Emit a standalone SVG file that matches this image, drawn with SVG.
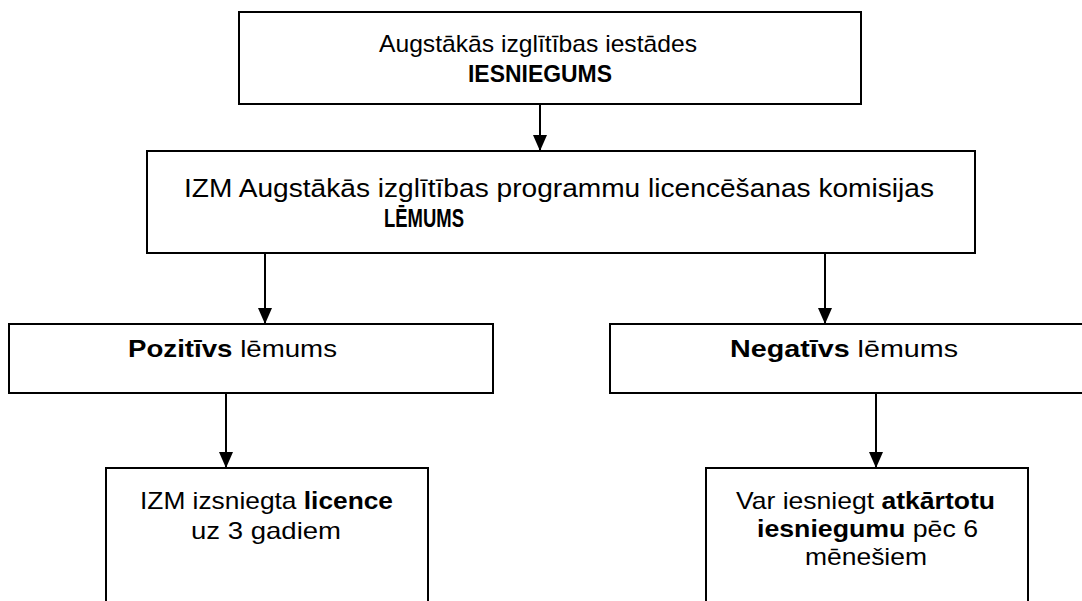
<svg xmlns="http://www.w3.org/2000/svg" width="1082" height="601" viewBox="0 0 1082 601">
<style>
.box{fill:#fff;stroke:#000;stroke-width:2}
.t{font-family:"Liberation Sans",Arial,sans-serif;font-size:24px;fill:#000}
.big{font-size:26px}
.b{font-weight:bold}
.c{stroke:#000;stroke-width:2;fill:none}
</style>
<defs>
<marker id="ah" markerWidth="16" markerHeight="14" refX="16" refY="7" orient="auto" markerUnits="userSpaceOnUse" viewBox="0 0 16 14">
<path d="M0,0 L16,7 L0,14 Z" fill="#000"/>
</marker>
</defs>
<g id="n1">
<rect class="box" x="239" y="12" width="622" height="92"/>
<text class="t" x="379" y="52" textLength="318" lengthAdjust="spacingAndGlyphs">Augstākās izglītības iestādes</text>
<text class="t b" x="468" y="82" textLength="144" lengthAdjust="spacingAndGlyphs">IESNIEGUMS</text>
</g>
<g id="n2">
<rect class="box" x="147" y="151" width="828" height="102"/>
<text class="t big" x="184" y="197" textLength="750" lengthAdjust="spacingAndGlyphs">IZM Augstākās izglītības programmu licencēšanas komisijas</text>
<text class="t big b" x="384" y="227" textLength="80" lengthAdjust="spacingAndGlyphs">LĒMUMS</text>
</g>
<g id="n3">
<rect class="box" x="9" y="324" width="484" height="69"/>
<text class="t" x="128" y="357" textLength="209" lengthAdjust="spacingAndGlyphs"><tspan class="b">Pozitīvs</tspan> lēmums</text>
</g>
<g id="n4">
<rect class="box" x="610" y="324" width="475" height="69"/>
<text class="t" x="730" y="357" textLength="228" lengthAdjust="spacingAndGlyphs"><tspan class="b">Negatīvs</tspan> lēmums</text>
</g>
<g id="n5">
<rect class="box" x="106" y="468" width="322" height="140"/>
<text class="t" x="140" y="509" textLength="253" lengthAdjust="spacingAndGlyphs">IZM izsniegta <tspan class="b">licence</tspan></text>
<text class="t" x="191" y="539" textLength="150" lengthAdjust="spacingAndGlyphs">uz 3 gadiem</text>
</g>
<g id="n6">
<rect class="box" x="706" y="468" width="322" height="140"/>
<text class="t" x="736" y="509" textLength="259" lengthAdjust="spacingAndGlyphs">Var iesniegt <tspan class="b">atkārtotu</tspan></text>
<text class="t" x="757" y="537" textLength="221" lengthAdjust="spacingAndGlyphs"><tspan class="b">iesniegumu</tspan> pēc 6</text>
<text class="t" x="805" y="565" textLength="122" lengthAdjust="spacingAndGlyphs">mēnešiem</text>
</g>
<g id="connectors">
<line class="c" x1="540" y1="104" x2="540" y2="151" marker-end="url(#ah)"/>
<line class="c" x1="265" y1="253" x2="265" y2="324" marker-end="url(#ah)"/>
<line class="c" x1="825" y1="253" x2="825" y2="324" marker-end="url(#ah)"/>
<line class="c" x1="226" y1="393" x2="226" y2="468" marker-end="url(#ah)"/>
<line class="c" x1="876" y1="393" x2="876" y2="468" marker-end="url(#ah)"/>
</g>
</svg>
